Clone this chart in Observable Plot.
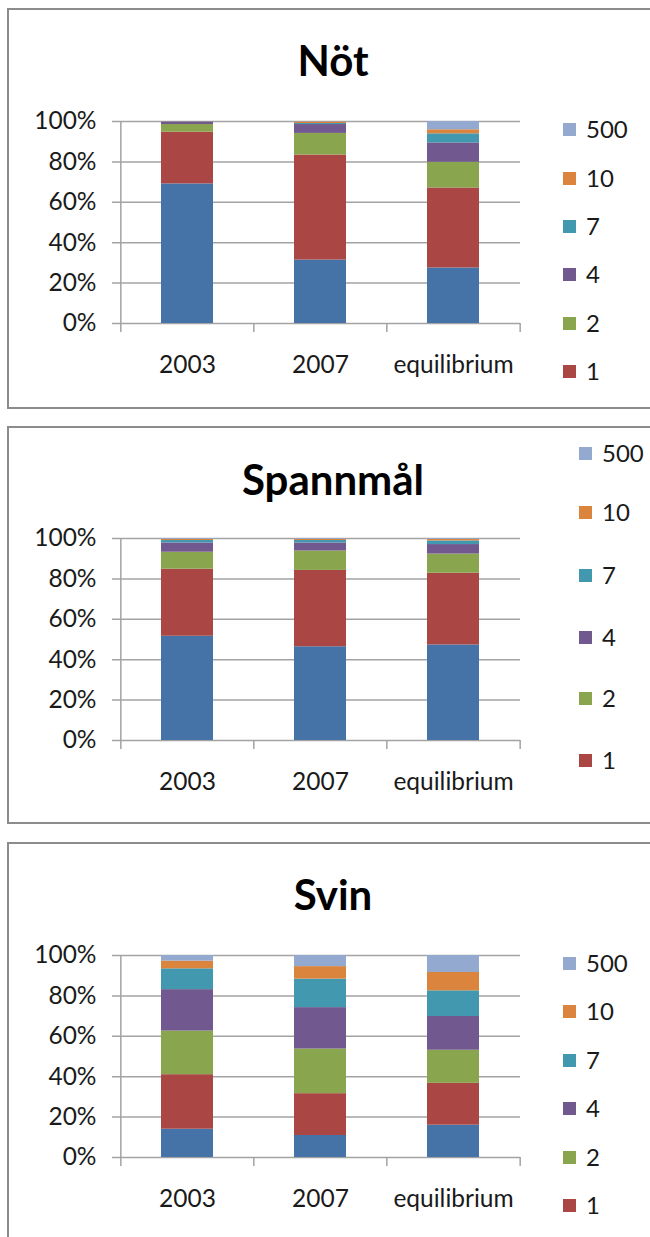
<!DOCTYPE html>
<html>
<head>
<meta charset="utf-8">
<script src="https://cdn.jsdelivr.net/npm/d3@7"></script>
<script src="https://cdn.jsdelivr.net/npm/@observablehq/plot@0.6"></script>
<style>
  html, body { margin: 0; padding: 0; background: #fff; overflow: hidden; }
  #root { position: relative; width: 650px; height: 1237px; overflow: hidden; font-family: Lato, "DejaVu Sans", sans-serif; }
  .panel { position: absolute; left: 7px; width: 680px; box-sizing: border-box; border: 2px solid #8c8c8c; }
  .title { position: absolute; left: 0; width: 666px; text-align: center; font-weight: 700; font-size: 42px; color: #000; line-height: 1; transform: translateY(-50%); }
  .plot { position: absolute; left: 0; }
  .leg { position: absolute; font-size: 24px; color: #1a1a1a; line-height: 1; transform: translateY(-50%); display: flex; align-items: center; }
  .leg span.sw { display: inline-block; width: 13px; height: 13px; margin-right: 10px; }
</style>
</head>
<body>
<div id="root"></div>
<script>
// ---- data ----
const categories = ["2003", "2007", "equilibrium"];
const seriesKeys = ["base", "1", "2", "4", "7", "10", "500"];   // bottom to top
const seriesColors = ["#4572A7", "#AA4643", "#89A54E", "#71588F", "#4198AF", "#DB843D", "#93A9CF"];
const legendLabels = ["500", "10", "7", "4", "2", "1"];
const yTicks = [0, 20, 40, 60, 80, 100];

// shares (%) per category, in seriesKeys order
const notShares = [
  [69.1, 25.6, 3.8, 1.2, 0.1, 0.1, 0.1],
  [31.4, 52.0, 10.7, 4.4, 0.5, 0.8, 0.2],
  [27.5, 39.6, 12.7, 9.6, 4.5, 2.0, 4.1]
];
const spannmalShares = [
  [51.6, 33.2, 8.4, 4.6, 1.2, 0.6, 0.4],
  [46.4, 37.8, 9.6, 4.0, 1.2, 0.6, 0.4],
  [47.3, 35.5, 9.5, 4.7, 1.8, 0.8, 0.4]
];
const svinShares = [
  [14.0, 27.0, 21.6, 20.5, 10.3, 3.8, 2.8],
  [10.9, 20.7, 22.1, 20.5, 14.1, 6.2, 5.5],
  [16.0, 20.7, 16.4, 16.7, 12.7, 9.1, 8.4]
];
const panelTitles = ["Nöt", "Spannmål", "Svin"];

// ---- layout ----
const panels = [
  {title: panelTitles[0], shares: notShares, top: 8, height: 401, titleY: 60, plotTop: 121, legendX: 563, legendY: [129, 178, 226, 274, 323, 371]},
  {title: panelTitles[1], shares: spannmalShares, top: 426, height: 398, titleY: 479, plotTop: 538, legendX: 579, legendY: [453, 512, 575, 637, 698, 760]},
  {title: panelTitles[2], shares: svinShares, top: 842, height: 420, titleY: 894, plotTop: 955, legendX: 563, legendY: [963, 1011, 1060, 1108, 1157, 1205]}
];

const root = document.getElementById("root");
const W = 650, mL = 120, mR = 130, mT = 33, plotH = 202, mB = 60;
const step = (W - mL - mR) / categories.length;
const gridColor = "#a3a3a3";

for (const p of panels) {
  const box = document.createElement("div");
  box.className = "panel";
  box.style.top = p.top + "px";
  box.style.height = p.height + "px";
  root.appendChild(box);

  const t = document.createElement("div");
  t.className = "title";
  t.textContent = p.title;
  t.style.top = p.titleY + "px";
  t.style.left = "0px";
  root.appendChild(t);

  const table = [];
  categories.forEach((c, i) => {
    seriesKeys.forEach((s, j) => table.push({category: c, series: s, value: p.shares[i][j]}));
  });

  const chart = Plot.plot({
    width: W,
    height: mT + plotH + mB,
    marginLeft: mL, marginRight: mR, marginTop: mT, marginBottom: mB,
    style: {fontFamily: "Lato, sans-serif", fontSize: "24.5px", color: "#1a1a1a", background: "transparent", overflow: "visible"},
    x: {type: "band", domain: categories, paddingInner: 0.61, paddingOuter: 0.305, label: null},
    y: {domain: [0, 100], label: null},
    color: {domain: seriesKeys, range: seriesColors},
    marks: [
      Plot.ruleY(yTicks, {stroke: gridColor, strokeWidth: 1.5, insetLeft: -8}),
      Plot.barY(table, {x: "category", y: "value", fill: "series"}),
      // left axis line (extends below baseline like a tick)
      Plot.ruleX([categories[0]], {x: d => d, y1: 100, y2: 0, dx: -step / 2, insetBottom: -9, stroke: gridColor, strokeWidth: 1.5}),
      // category boundary ticks
      Plot.ruleX(categories.slice(1), {x: d => d, y1: 0, y2: 0, dx: -step / 2, insetBottom: -9, stroke: gridColor, strokeWidth: 1.5}),
      Plot.ruleX([categories[categories.length - 1]], {x: d => d, y1: 0, y2: 0, dx: step / 2, insetBottom: -9, stroke: gridColor, strokeWidth: 1.5}),
      Plot.axisY({ticks: yTicks, tickFormat: d => d + "%", tickSize: 0, tickPadding: 24, fontSize: 24.5, label: null}),
      Plot.axisX({tickSize: 0, tickPadding: 32, fontSize: 24.5, label: null})
    ]
  });
  chart.classList.add("plot");
  chart.style.position = "absolute";
  chart.style.top = (p.plotTop - mT) + "px";
  chart.style.left = "0px";
  root.appendChild(chart);

  legendLabels.forEach((lab, k) => {
    const item = document.createElement("div");
    item.className = "leg";
    item.style.left = p.legendX + "px";
    item.style.top = p.legendY[k] + "px";
    const sw = document.createElement("span");
    sw.className = "sw";
    sw.style.background = seriesColors[seriesKeys.indexOf(lab)];
    item.appendChild(sw);
    item.appendChild(document.createTextNode(lab));
    root.appendChild(item);
  });
}
</script>
</body>
</html>
